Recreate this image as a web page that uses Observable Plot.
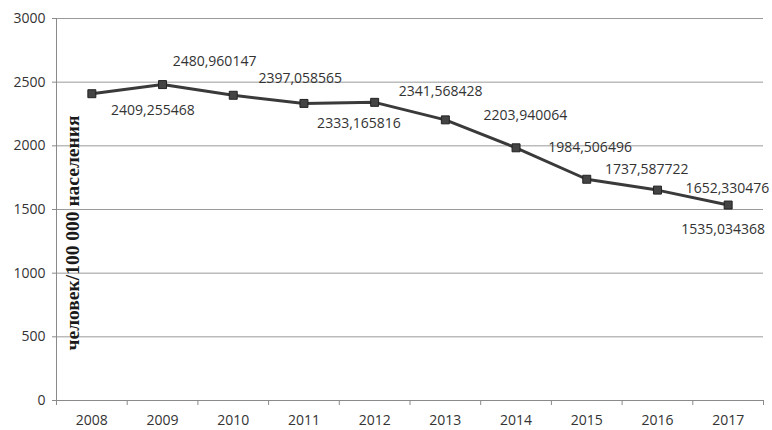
<!DOCTYPE html>
<html>
<head>
<meta charset="utf-8">
<script src="https://cdn.jsdelivr.net/npm/d3@7"></script>
<script src="https://cdn.jsdelivr.net/npm/@observablehq/plot@0.6"></script>
<style>
  html, body { margin: 0; padding: 0; background: #fff; }
</style>
</head>
<body>
<div id="chart"></div>
<script>
// Rate per 100 000 population, 2008–2017
const years = [2008, 2009, 2010, 2011, 2012, 2013, 2014, 2015, 2016, 2017];
const rates = [2409.255468, 2480.960147, 2397.058565, 2333.165816, 2341.568428,
               2203.940064, 1984.506496, 1737.587722, 1652.330476, 1535.034368];
const yTicks = [0, 500, 1000, 1500, 2000, 2500, 3000];
const yTitle = "человек/100 000 населения";

const rows = years.map((year, i) => ({year, rate: rates[i]}));

// Where each value label sits relative to its marker (pixels)
const labelOffset = [
  [61, 17], [52, -23], [67, -17], [55, 20], [66, -11],
  [80, -4], [74, 0], [60, -10], [70, -2], [-5, 24]
];

const fmt = v => String(v).replace(".", ",");
const boundaries = years.map(y => y - 0.5).concat([years[years.length - 1] + 0.5]);

const chart = Plot.plot({
  width: 772,
  height: 430,
  marginLeft: 56,
  marginRight: 9,
  marginTop: 18,
  marginBottom: 30,
  style: {fontFamily: "'Open Sans', sans-serif", fontSize: "14px", color: "#333", background: "#fff"},
  x: {type: "linear", domain: [boundaries[0], boundaries[boundaries.length - 1]]},
  y: {domain: [0, 3000]},
  marks: [
    Plot.gridY(yTicks, {stroke: "#9a9a9a", strokeOpacity: 1}),
    Plot.ruleX([boundaries[0]], {y1: 0, y2: 3000, stroke: "#8a8a8a"}),
    Plot.ruleY([0], {stroke: "#8a8a8a"}),
    Plot.axisY(yTicks, {tickSize: 4, tickPadding: 7, tickFormat: "d", label: null, stroke: "#8a8a8a"}),
    Plot.axisX(boundaries, {tickSize: 5, tickFormat: () => "", label: null, stroke: "#8a8a8a"}),
    Plot.axisX(years, {tickSize: 0, tickPadding: 15, tickFormat: "d", label: null}),
    Plot.text([yTitle], {
      frameAnchor: "left", rotate: -90, dx: 17, dy: 141, textAnchor: "start",
      fontFamily: "'Liberation Serif', serif", fontWeight: "bold", fontSize: 18, fill: "#1a1a1a"
    }),
    Plot.line(rows, {x: "year", y: "rate", stroke: "#3a3a3a", strokeWidth: 3}),
    Plot.dot(rows, {x: "year", y: "rate", symbol: "square", r: 4.5, fill: "#444", stroke: "#222", strokeWidth: 1}),
    ...rows.map((d, i) => Plot.text([d], {
      x: "year", y: "rate", text: r => fmt(r.rate),
      dx: labelOffset[i][0], dy: labelOffset[i][1], fill: "#333", fontSize: 14
    }))
  ]
});

document.getElementById("chart").appendChild(chart);

// Stretch the axis title to its printed length
const titleNode = Array.from(chart.querySelectorAll("text")).find(t => t.textContent === yTitle);
if (titleNode) {
  titleNode.setAttribute("textLength", 235);
  titleNode.setAttribute("lengthAdjust", "spacingAndGlyphs");
}
</script>
</body>
</html>
